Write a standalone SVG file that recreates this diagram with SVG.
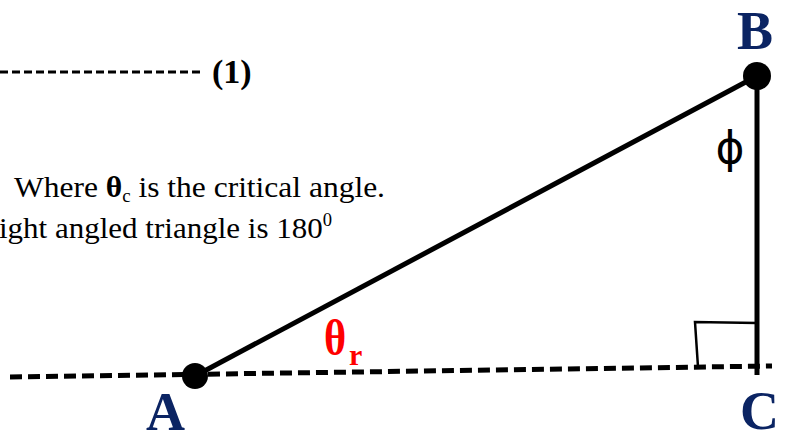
<svg xmlns="http://www.w3.org/2000/svg" width="791" height="435" viewBox="0 0 791 435">
<style>
.txt{font-family:"Liberation Serif","Times New Roman",serif;fill:#000}
.lbl{font-family:"Liberation Serif","Times New Roman",serif;font-weight:bold;fill:#0b2463;font-size:54px}
.dash{stroke:#000;fill:none}
.edge{stroke:#000;stroke-width:5;fill:none}
</style>
<rect width="791" height="435" fill="#fff"/>
<g id="eq-line">
<line class="dash" x1="0" y1="72" x2="203" y2="72" stroke-width="3" stroke-dasharray="8,4"/>
<text class="txt" x="212" y="83" font-size="34" font-weight="bold">(1)</text>
</g>
<g id="text1">
<text class="txt" x="14" y="197" font-size="30" textLength="371" lengthAdjust="spacingAndGlyphs">Where <tspan font-weight="bold">θ</tspan><tspan font-size="18" dy="5">c</tspan><tspan dy="-5"> is the critical angle.</tspan></text>
</g>
<g id="text2">
<text class="txt" x="-1" y="238" font-size="30" textLength="333" lengthAdjust="spacingAndGlyphs">ight angled triangle is 180<tspan font-size="18" dy="-12">0</tspan></text>
</g>
<g id="connectors">
<line class="dash" x1="10" y1="377" x2="772" y2="366" stroke-width="5" stroke-dasharray="12,6"/>
<line class="edge" x1="195" y1="376" x2="757" y2="76"/>
<line class="edge" x1="757" y1="76" x2="757" y2="375"/>
<polyline points="757,323 695,322 698,367" fill="none" stroke="#000" stroke-width="2.5"/>
</g>
<g id="A">
<circle cx="195" cy="376" r="13" fill="#000"/>
<text class="lbl" x="146" y="430">A</text>
</g>
<g id="B">
<circle cx="757" cy="76" r="14" fill="#000"/>
<text class="lbl" x="737" y="49">B</text>
</g>
<g id="C">
<text class="lbl" x="740" y="429">C</text>
</g>
<g id="phi">
<text x="730" y="163" font-size="44" text-anchor="middle" font-family="DejaVu Sans, sans-serif" fill="#000">ϕ</text>
</g>
<g id="theta-r">
<text transform="translate(324,355) scale(0.85,1)" x="0" y="0" font-size="50" font-weight="bold" font-family="Liberation Serif, serif" fill="#ff0000">θ</text>
<text x="349" y="365" font-size="30" font-weight="bold" font-family="Liberation Serif, serif" fill="#ff0000">r</text>
</g>
</svg>
